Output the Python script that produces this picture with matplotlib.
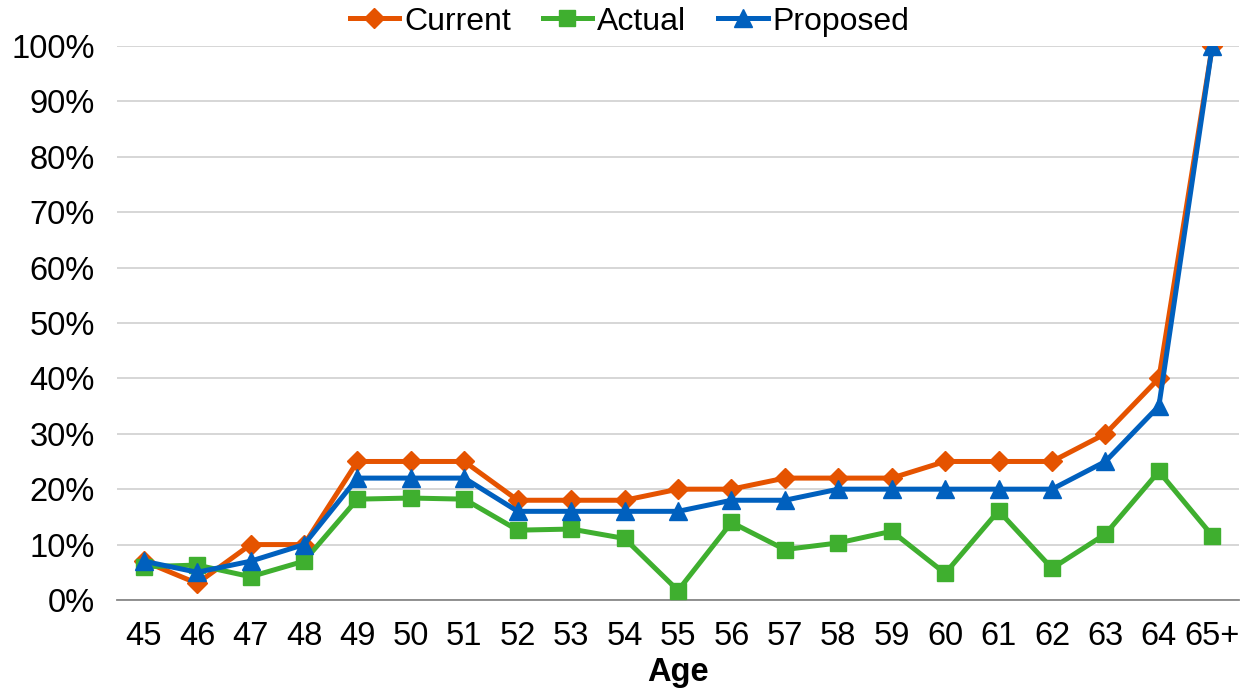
import matplotlib
matplotlib.use("Agg")
import matplotlib.pyplot as plt
from matplotlib.ticker import PercentFormatter

plt.rcParams['font.family'] = ['Liberation Sans', 'DejaVu Sans']

ages = ["45", "46", "47", "48", "49", "50", "51", "52", "53", "54", "55",
        "56", "57", "58", "59", "60", "61", "62", "63", "64", "65+"]
current = [7, 3, 10, 10, 25, 25, 25, 18, 18, 18, 20,
           20, 22, 22, 22, 25, 25, 25, 30, 40, 100]
actual = [6.0, 6.3, 4.2, 7.0, 18.2, 18.4, 18.2, 12.6, 12.8, 11.1, 1.7,
          14.0, 9.1, 10.3, 12.4, 4.8, 16.1, 5.7, 11.9, 23.2, 11.6]
proposed = [7, 5, 7, 10, 22, 22, 22, 16, 16, 16, 16,
            18, 18, 20, 20, 20, 20, 20, 25, 35, 100]
yticks = list(range(0, 101, 10))

fig = plt.figure(figsize=(12.49, 6.92), dpi=100)
ax = fig.add_axes([0.0937, 0.133, 0.8983, 0.8005])

x = list(range(len(ages)))
ax.plot(x, current, color="#E55300", lw=3.6, marker="D", ms=10.5, label="Current", zorder=3)
ax.plot(x, actual, color="#3FAF2F", lw=3.6, marker="s", ms=12, label="Actual", zorder=4)
ax.plot(x, proposed, color="#0060BE", lw=3.6, marker="^", ms=13, label="Proposed", zorder=5)

ax.set_xlim(-0.5, len(ages) - 0.5)
ax.set_ylim(0, 100)
ax.set_xticks(x)
ax.set_xticklabels(ages)
ax.set_yticks(yticks)
ax.yaxis.set_major_formatter(PercentFormatter(decimals=0))
ax.tick_params(axis="both", length=0, labelsize=23.5)
ax.tick_params(axis="x", pad=15)
ax.tick_params(axis="y", pad=16)
ax.grid(axis="y", color="#D0D0D0", lw=1.2)
ax.set_axisbelow(True)
for side in ("left", "right", "top"):
    ax.spines[side].set_visible(False)
ax.spines["bottom"].set_color("#888888")
ax.spines["bottom"].set_linewidth(1.3)

ax.set_xlabel("Age", fontsize=23.5, fontweight="bold", labelpad=4)

fig.legend(loc="upper center", bbox_to_anchor=(0.504, 1.032), ncol=3, frameon=False,
           fontsize=23, handlelength=1.55, handletextpad=0.15, columnspacing=1.0)

fig.savefig("out.png", dpi=100)
